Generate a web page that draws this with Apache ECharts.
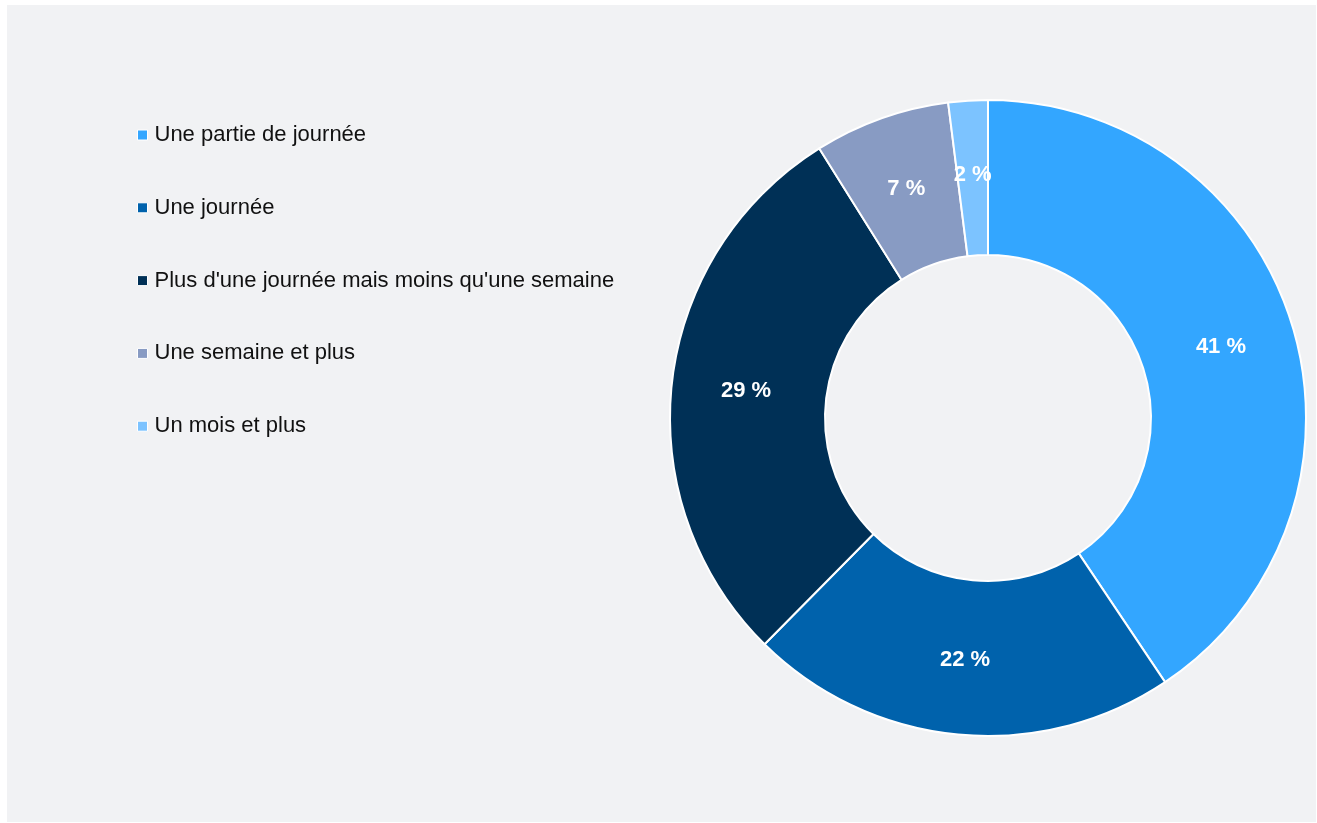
<!DOCTYPE html>
<html>
<head>
<meta charset="utf-8">
<script src="https://cdn.jsdelivr.net/npm/echarts@6/dist/echarts.min.js"></script>
<style>
  html, body { margin: 0; padding: 0; background: #ffffff; }
  #chart {
    position: absolute;
    left: 7px;
    top: 5px;
    width: 1309px;
    height: 817px;
    background: #f1f2f4;
  }
</style>
</head>
<body>
<div id="chart"></div>
<script>
// durée des absences (parts en %)
const categories = [
  'Une partie de journée',
  'Une journée',
  "Plus d'une journée mais moins qu'une semaine",
  'Une semaine et plus',
  'Un mois et plus'
]
const shares = [40.6, 21.8, 28.7, 6.9, 2.0]
const colors = ['#33a6ff', '#0062ac', '#003056', '#889bc3', '#7cc3ff']

const myChart = echarts.init(document.getElementById('chart'))

const option = {
  backgroundColor: '#f1f2f4',
  color: colors,
  legend: {
    orient: 'vertical',
    left: 125,
    top: 114,
    icon: 'rect',
    itemWidth: 10,
    itemHeight: 10,
    itemGap: 50.8,
    selectedMode: false,
    itemStyle: { borderColor: '#ffffff', borderWidth: 1 },
    textStyle: {
      fontFamily: 'Liberation Sans, Arial, sans-serif',
      fontSize: 22,
      color: '#111111',
      padding: [0, 0, 0, 2]
    },
    data: categories
  },
  series: [
    {
      type: 'pie',
      center: [981, 413],
      radius: [163, 318],
      startAngle: 90,
      clockwise: true,
      silent: true,
      itemStyle: { borderColor: '#ffffff', borderWidth: 2 },
      label: {
        show: true,
        position: 'inside',
        formatter: (p) => Math.round(p.value) + ' %',
        color: '#ffffff',
        fontFamily: 'Liberation Sans, Arial, sans-serif',
        fontWeight: 'bold',
        fontSize: 22,
        padding: [6, 0, 0, 0]
      },
      labelLine: { show: false },
      data: categories.map((name, i) => ({ name: name, value: shares[i] }))
    }
  ]
}

myChart.setOption(option)
</script>
</body>
</html>
